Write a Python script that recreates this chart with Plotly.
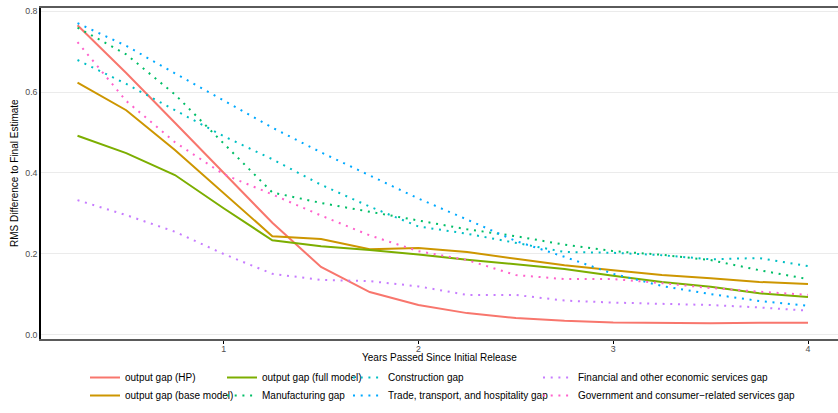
import plotly.graph_objects as go

years = [0.25, 0.5, 0.75, 1.0, 1.25, 1.5, 1.75, 2.0, 2.25, 2.5, 2.75, 3.0, 3.25, 3.5, 3.75, 4.0]

hp = [0.765, 0.647, 0.524, 0.400, 0.277, 0.168, 0.106, 0.074, 0.054, 0.042, 0.035, 0.031, 0.030, 0.029, 0.030, 0.030]
base = [0.623, 0.555, 0.457, 0.350, 0.244, 0.237, 0.212, 0.215, 0.205, 0.188, 0.172, 0.160, 0.148, 0.140, 0.131, 0.126]
full = [0.492, 0.449, 0.395, 0.313, 0.234, 0.219, 0.210, 0.199, 0.186, 0.174, 0.163, 0.146, 0.131, 0.119, 0.103, 0.094]
manufacturing = [0.759, 0.693, 0.594, 0.472, 0.352, 0.326, 0.304, 0.283, 0.261, 0.244, 0.223, 0.207, 0.198, 0.185, 0.160, 0.138]
construction = [0.679, 0.620, 0.555, 0.491, 0.434, 0.371, 0.317, 0.268, 0.250, 0.227, 0.205, 0.203, 0.197, 0.187, 0.190, 0.170]
trade = [0.770, 0.714, 0.646, 0.580, 0.512, 0.451, 0.395, 0.337, 0.285, 0.232, 0.193, 0.151, 0.121, 0.101, 0.084, 0.072]
financial = [0.333, 0.296, 0.255, 0.200, 0.151, 0.136, 0.133, 0.120, 0.099, 0.099, 0.085, 0.080, 0.077, 0.074, 0.068, 0.060]
government = [0.723, 0.578, 0.476, 0.397, 0.347, 0.295, 0.246, 0.207, 0.185, 0.148, 0.138, 0.138, 0.128, 0.116, 0.107, 0.099]

names = ["output gap (HP)", "output gap (base model)", "output gap (full model)",
         "Manufacturing gap", "Construction gap", "Trade, transport, and hospitality gap",
         "Financial and other economic services gap",
         "Government and consumer\u2212related services gap"]
values = [hp, base, full, manufacturing, construction, trade, financial, government]
colors = ["#F8766D", "#CD9600", "#7CAE00", "#00BE67", "#00BFC4", "#00A9FF", "#C77CFF", "#FF61CC"]
styles = ["solid", "solid", "solid", "dot", "dot", "dot", "dot", "dot"]

x_title = "Years Passed Since Initial Release"
y_title = "RMS Difference to Final Estimate"

FONT = "Liberation Sans, Arial, sans-serif"
WIDTH, HEIGHT = 838, 413
ML, MR, MT, MB = 41, 0, 8, 74
PW, PH = WIDTH - ML - MR, HEIGHT - MT - MB

# legend grid: 4 columns x 2 rows (text left edge px, legend top px)
col_text_px = [125, 262, 388, 578]
row_top_px = [363, 381]

fig = go.Figure()
legend_layouts = {}
for i, (name, vals, color, style) in enumerate(zip(names, values, colors, styles)):
    if style == "solid":
        line = dict(color=color, width=2)
    else:
        line = dict(color=color, width=2, dash="2px,5.7px")
    leg_id = f"legend{i + 2}"
    fig.add_trace(go.Scatter(x=years, y=vals, mode="lines", name=name,
                             line=line, legend=leg_id))
    col, row = i // 2, i % 2
    legend_layouts[leg_id] = dict(
        orientation="v",
        x=(col_text_px[col] - 40 - ML) / PW,
        y=(HEIGHT - MB - row_top_px[row]) / PH,
        xanchor="left", yanchor="top",
        font=dict(family=FONT, size=10, color="#000000"),
        bgcolor="rgba(0,0,0,0)", itemwidth=30,
    )

fig.update_layout(
    width=WIDTH, height=HEIGHT,
    margin=dict(l=ML, r=MR, t=MT, b=MB),
    paper_bgcolor="white", plot_bgcolor="white",
    font=dict(family=FONT, size=10, color="#000000"),
    xaxis=dict(
        range=[0.0625, 4.154], tickvals=[1, 2, 3, 4], ticktext=["1", "2", "3", "4"],
        showgrid=False, zeroline=False, automargin=False,
        showline=True, mirror=True, linecolor="#5a5a5a", linewidth=2,
        ticks="outside", ticklen=3, tickcolor="#000000", tickwidth=1,
        ticklabelstandoff=-3,
        tickfont=dict(family=FONT, size=8.8, color="#4D4D4D"),
    ),
    yaxis=dict(
        range=[-0.0099, 0.8074], tickvals=[0.0, 0.2, 0.4, 0.6, 0.8],
        ticktext=["0.0", "0.2", "0.4", "0.6", "0.8"],
        showgrid=True, gridcolor="#EBEBEB", gridwidth=1, zeroline=False,
        automargin=False,
        showline=True, linecolor="#000000", linewidth=1.5,
        ticks="", tickfont=dict(family=FONT, size=8.8, color="#4D4D4D"),
    ),
    annotations=[
        dict(text=x_title, xref="paper", yref="paper", x=0.5,
             y=(HEIGHT - MB - 357) / PH, xanchor="center", yanchor="middle",
             showarrow=False, font=dict(family=FONT, size=10, color="#000000")),
        dict(text=y_title, xref="paper", yref="paper", x=(14 - ML) / PW,
             y=(HEIGHT - MB - 173) / PH, xanchor="center", yanchor="middle",
             textangle=-90, showarrow=False,
             font=dict(family=FONT, size=10, color="#000000")),
    ],
    **legend_layouts,
)

fig.write_html("out.html", config={"displayModeBar": False},
               post_script="document.body.style.margin='0';")
